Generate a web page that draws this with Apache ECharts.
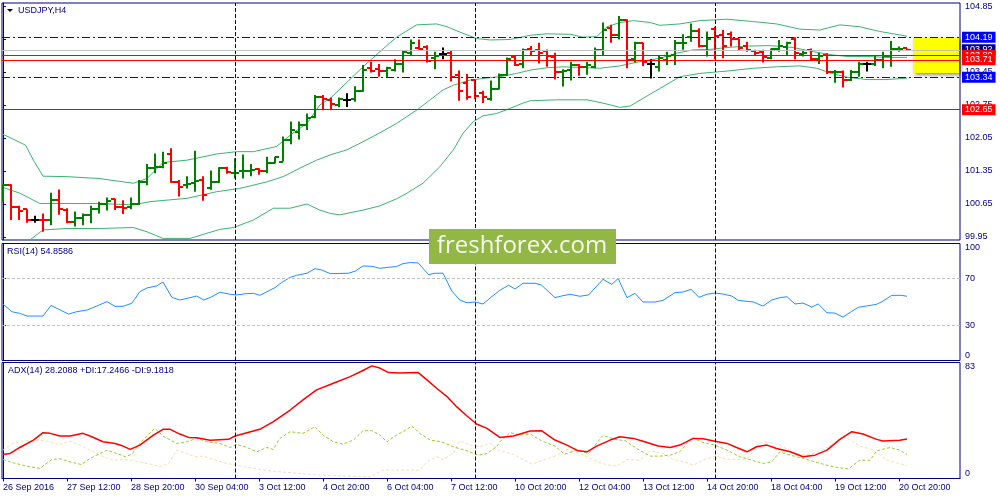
<!DOCTYPE html>
<html lang="en">
<head>
    <meta charset="UTF-8">
    <title>USDJPY,H4</title>
    <style>body { margin: 0; background: #fff; }</style>
</head>
<body>
    <div id="main" style="width: 1000px;height:500px"></div>

    <script src="https://cdn.jsdelivr.net/npm/echarts@6.0.0/dist/echarts.min.js"></script>
    <script>
        // bar index 0 = 26 Sep 04:00, one bar per 4 hours (weekends skipped)
        const opens = [
            100.73, 101.05, 100.59, 100.54, 100.32, 100.32, 100.32, 100.73, 100.52, 100.27,
            100.35, 100.42, 100.54, 100.65, 100.75, 100.59, 100.58, 100.65, 101.12, 101.41,
            101.44, 101.72, 101.12, 101.05, 101.10, 101.16, 100.98, 101.12, 101.41, 101.30,
            101.34, 101.36, 101.39, 101.34, 101.53, 101.55, 102.01, 102.18, 102.33, 102.50,
            102.93, 102.86, 102.75, 102.86, 102.87, 103.05, 103.53, 103.51, 103.47, 103.49,
            103.63, 103.86, 103.95, 103.99, 103.74, 103.83, 103.86, 103.39, 103.21, 103.27,
            103.00, 102.87, 103.10, 103.39, 103.76, 103.63, 103.93, 103.92, 103.90, 103.76,
            103.46, 103.49, 103.60, 103.56, 103.56, 103.92, 104.38, 104.23, 104.55, 103.72,
            104.06, 103.63, 103.56, 103.70, 103.81, 104.06, 104.20, 104.33, 104.00, 104.36,
            104.24, 104.26, 104.14, 104.00, 103.90, 103.88, 103.74, 103.93, 103.99, 104.16,
            103.83, 103.92, 103.72, 103.81, 103.44, 103.46, 103.29, 103.46, 103.62, 103.62,
            103.70, 103.78, 103.93, 103.95
        ];
        const highs = [
            101.07, 101.07, 100.61, 100.54, 100.40, 100.45, 100.89, 100.96, 100.56, 100.49,
            100.45, 100.61, 100.70, 100.79, 100.76, 100.73, 100.79, 101.16, 101.50, 101.72,
            101.76, 101.83, 101.16, 101.24, 101.78, 101.24, 101.36, 101.43, 101.44, 101.62,
            101.70, 101.50, 101.41, 101.65, 101.65, 102.08, 102.40, 102.40, 102.57, 102.96,
            102.96, 102.91, 102.91, 103.00, 103.15, 103.60, 103.67, 103.62, 103.56, 103.72,
            103.90, 104.14, 104.14, 104.02, 103.88, 103.97, 103.90, 103.48, 103.41, 103.29,
            103.05, 103.27, 103.42, 103.76, 103.81, 103.95, 104.00, 104.07, 103.93, 103.86,
            103.51, 103.67, 103.62, 103.67, 103.97, 104.50, 104.45, 104.64, 104.57, 104.09,
            104.07, 103.72, 103.79, 103.88, 104.13, 104.25, 104.48, 104.38, 104.31, 104.41,
            104.34, 104.31, 104.16, 104.09, 103.92, 103.92, 103.95, 104.13, 104.09, 104.19,
            103.90, 103.95, 103.86, 103.85, 103.49, 103.48, 103.49, 103.67, 103.67, 103.81,
            103.88, 104.11, 103.99, 103.95
        ];
        const lows = [
            100.70, 100.31, 100.31, 100.25, 100.25, 100.06, 100.20, 100.42, 100.24, 100.17,
            100.20, 100.24, 100.45, 100.51, 100.52, 100.44, 100.54, 100.63, 101.05, 101.30,
            101.41, 101.10, 100.81, 100.98, 100.91, 100.72, 100.95, 101.10, 101.29, 101.19,
            101.19, 101.24, 101.27, 101.30, 101.51, 101.55, 101.92, 102.02, 102.22, 102.47,
            102.64, 102.64, 102.70, 102.71, 102.82, 103.03, 103.44, 103.35, 103.34, 103.46,
            103.44, 103.81, 103.92, 103.65, 103.51, 103.72, 103.25, 102.84, 102.86, 102.87,
            102.79, 102.84, 103.08, 103.37, 103.58, 103.53, 103.79, 103.63, 103.56, 103.29,
            103.14, 103.27, 103.37, 103.39, 103.53, 103.81, 104.07, 104.14, 103.53, 103.65,
            103.58, 103.31, 103.46, 103.60, 103.60, 103.92, 104.09, 103.97, 103.78, 103.72,
            103.74, 103.99, 103.90, 103.88, 103.81, 103.65, 103.72, 103.88, 103.81, 103.72,
            103.78, 103.69, 103.62, 103.41, 103.22, 103.12, 103.26, 103.35, 103.46, 103.58,
            103.53, 103.56, 103.88, 103.90
        ];
        const closes = [
            101.05, 100.59, 100.51, 100.32, 100.32, 100.30, 100.73, 100.54, 100.27, 100.35,
            100.42, 100.54, 100.66, 100.72, 100.58, 100.56, 100.66, 101.12, 101.41, 101.44,
            101.51, 101.12, 101.02, 101.07, 101.14, 100.84, 101.12, 101.42, 101.33, 101.31,
            101.36, 101.37, 101.36, 101.51, 101.65, 102.01, 102.21, 102.33, 102.48, 102.93,
            102.87, 102.77, 102.87, 102.86, 103.05, 103.49, 103.48, 103.47, 103.53, 103.63,
            103.88, 104.07, 103.93, 103.69, 103.79, 103.83, 103.35, 103.05, 102.91, 102.94,
            102.93, 103.08, 103.39, 103.72, 103.59, 103.92, 103.90, 103.85, 103.78, 103.46,
            103.48, 103.60, 103.56, 103.60, 103.92, 104.34, 104.23, 104.55, 103.70, 104.06,
            103.67, 103.63, 103.74, 103.79, 104.06, 104.07, 104.33, 104.00, 104.16, 104.21,
            104.00, 104.14, 103.95, 103.92, 103.86, 103.76, 103.93, 104.00, 104.06, 103.85,
            103.86, 103.72, 103.78, 103.44, 103.46, 103.28, 103.46, 103.63, 103.62, 103.70,
            103.79, 103.93, 103.94, 103.92
        ];

        // Bollinger bands, read as [bar, price] vertices
        const bbUpper = [
            [0, 102.13], [2.8, 101.90], [3.8, 101.58], [5, 101.24], [8, 101.23], [12, 101.19], [16.3, 101.09],
            [18, 101.19], [20, 101.53], [23, 101.58], [26.7, 101.71], [29.2, 101.76], [31.3, 101.76], [34.2, 101.87],
            [35.9, 102.11], [38, 102.36], [39.6, 102.75], [40.9, 102.89], [45, 103.56], [47.1, 103.88], [49.2, 104.19],
            [51.7, 104.45], [54.2, 104.47], [55.5, 104.41], [57.5, 104.27], [59.2, 104.16], [60.9, 104.13], [63.4, 104.14],
            [65.9, 104.23], [68, 104.26], [70.9, 104.25], [72.5, 104.19], [74.2, 104.20], [75.5, 104.41], [77.1, 104.50],
            [78.8, 104.54], [80.9, 104.50], [82.1, 104.44], [84.6, 104.47], [87.1, 104.54], [90.5, 104.57], [93.8, 104.52],
            [96.7, 104.47], [99.6, 104.36], [102.1, 104.34], [104.6, 104.45], [107.1, 104.41], [109.6, 104.31], [113, 104.21]
        ];
        const bbMiddle = [
            [0, 101.00], [2.1, 100.88], [4.6, 100.66], [8, 100.66], [12.1, 100.66], [16.3, 100.63], [18.4, 100.70],
            [23, 100.77], [26.7, 100.91], [29.6, 100.98], [33, 101.12], [35, 101.23], [37.1, 101.41], [39.2, 101.58],
            [40.9, 101.69], [43, 101.80], [45, 101.97], [47.1, 102.16], [49.2, 102.36], [51.7, 102.64], [53.4, 102.86],
            [55, 103.07], [56.3, 103.17], [58.4, 103.28], [60.9, 103.33], [62.1, 103.35], [64.2, 103.42], [65.9, 103.49],
            [68, 103.54], [70, 103.56], [73, 103.54], [74.6, 103.53], [77.1, 103.58], [79.6, 103.67], [82.1, 103.74],
            [84.2, 103.85], [86.3, 103.92], [88.4, 103.93], [90.5, 103.97], [93, 104.00], [95.9, 104.01], [98.8, 103.97],
            [101.3, 103.88], [103.8, 103.81], [105.5, 103.78], [108, 103.78], [110.5, 103.76], [113, 103.76]
        ];
        const bbLower = [
            [0, 99.88], [2, 99.80], [3.4, 99.89], [5, 100.10], [8, 100.13], [12.1, 100.13], [16.3, 100.15], [18, 100.06],
            [20, 99.92], [23.4, 99.92], [25.5, 100.03], [27.1, 100.11], [28.8, 100.15], [31.3, 100.31], [33.8, 100.56],
            [35.9, 100.56], [38, 100.65], [39.6, 100.52], [40.9, 100.45], [42.1, 100.42], [45, 100.52], [47.1, 100.61],
            [49.2, 100.76], [50.5, 100.88], [52.5, 101.09], [54.6, 101.44], [56.3, 101.80], [57.5, 102.15], [58.8, 102.40],
            [60, 102.52], [61.7, 102.57], [63.4, 102.68], [65, 102.79], [65.9, 102.84], [69.2, 102.86], [73, 102.86],
            [75, 102.79], [77.1, 102.70], [78.4, 102.73], [80, 102.89], [82.1, 103.10], [84.6, 103.35], [87.1, 103.42],
            [90.5, 103.47], [93.8, 103.53], [96.7, 103.56], [99.6, 103.58], [101.7, 103.53], [103.8, 103.41],
            [105.5, 103.34], [108, 103.29], [110.5, 103.29], [113, 103.32]
        ];

        const rsi = [
            [0, 48.3], [1.1, 41.7], [2.1, 40.3], [3, 38.0], [5, 38.0], [6, 47.1], [6.9, 44.0], [8.2, 39.7], [9.2, 41.7],
            [10.5, 43.1], [11.7, 46.5], [13, 50.3], [14, 46.3], [15, 46.3], [16.1, 48.9], [17.1, 58.8], [18, 62.0],
            [19.2, 63.7], [20, 67.1], [21.1, 54.0], [22.1, 51.7], [23.2, 53.4], [24.2, 55.1], [25.1, 51.7], [26.1, 54.5],
            [27.1, 58.3], [28.4, 56.6], [29.2, 56.0], [30.3, 57.1], [31.3, 57.4], [32.1, 55.7], [33, 58.8], [34, 62.3],
            [34.8, 66.5], [35.9, 71.1], [36.7, 72.8], [38, 74.6], [39, 78.5], [39.8, 77.4], [40.9, 74.3], [41.5, 74.3],
            [43.2, 74.6], [44, 76.3], [45, 80.8], [46.1, 80.5], [47.1, 78.8], [48.2, 79.7], [49.2, 80.3], [50, 82.8],
            [50.9, 83.7], [51.9, 83.4], [53.2, 73.4], [54, 74.6], [55, 74.6], [56.1, 59.4], [57.1, 51.7], [58, 49.4],
            [59, 50.0], [60, 48.3], [61, 54.0], [62.1, 60.0], [63.2, 64.3], [64, 61.1], [65, 66.0], [66.5, 66.0],
            [67.3, 64.5], [69, 53.7], [69.8, 55.1], [70.9, 56.6], [72.1, 54.9], [73.2, 56.0], [75, 69.4], [76.1, 65.1],
            [76.9, 70.0], [78, 53.7], [79, 57.4], [80, 50.0], [81.5, 50.0], [82.5, 51.4], [84, 58.0], [85, 58.5],
            [86, 60.8], [87, 54.0], [88, 56.6], [89, 57.7], [90, 56.8], [91.1, 55.1], [91.9, 51.4], [93.8, 50.0],
            [95, 46.5], [96.1, 51.7], [97.1, 53.7], [98, 54.5], [99, 48.3], [100, 49.1], [101.1, 45.7], [101.9, 48.3],
            [103, 40.8], [104, 40.5], [105, 37.1], [106.1, 42.0], [106.9, 45.4], [108.4, 47.1], [109.2, 48.0],
            [110, 50.8], [111.1, 55.7], [112.3, 55.7], [113, 54.9]
        ];

        const adx = [
            [0, 17.2], [0.9, 17.9], [2.1, 22.2], [3.8, 27.5], [5, 32.8], [5.9, 32.3], [7.1, 30.4], [8.4, 30.4], [10, 32.3],
            [11.1, 29.9], [12.5, 26.3], [14, 25.1], [15, 23.2], [15.9, 20.8], [17.1, 23.9], [18.8, 31.1], [20, 35.2],
            [20.9, 35.2], [22.1, 31.8], [23.2, 29.4], [24.2, 29.2], [25.9, 27.3], [28.2, 28.0], [29, 30.4], [30.5, 32.8],
            [32.1, 35.2], [33.8, 40.7], [35.9, 49.0], [37.5, 56.2], [39.2, 63.4], [41.3, 68.2], [43.4, 72.9], [45, 77.3],
            [46.1, 80.6], [47.1, 79.0], [48.2, 75.8], [49.6, 75.4], [51.9, 75.8], [53, 70.6], [54.2, 64.6], [55.5, 58.6],
            [56.7, 51.4], [58, 44.7], [59.2, 39.0], [60.5, 35.9], [62.1, 29.4], [63.8, 30.4], [65.9, 34.0], [67.3, 34.2],
            [69, 27.5], [70.5, 23.9], [71.9, 19.8], [73, 19.1], [74.2, 23.2], [75.9, 27.5], [77.1, 29.9], [78.8, 28.7],
            [80, 26.6], [81.9, 23.2], [83.4, 22.2], [84.6, 23.9], [86.3, 28.7], [87.5, 28.5], [89, 26.6], [90.5, 25.1],
            [91.7, 22.2], [93, 19.1], [94.2, 22.7], [95.5, 23.9], [96.7, 21.5], [98.4, 19.1], [100, 15.6], [101.5, 16.7],
            [103, 20.3], [104.6, 28.0], [106.1, 33.5], [107.5, 31.8], [109.2, 28.0], [110, 26.8], [112.1, 27.3], [113, 28.2]
        ];
        const plusDI = [
            [0, 13.6], [1.3, 11.2], [3, 8.8], [4.6, 7.2], [6.1, 13.6], [7.1, 14.1], [8.4, 11.9], [9.8, 10.0], [10.9, 14.4],
            [12.1, 17.9], [13, 20.3], [14.2, 17.9], [15.3, 15.6], [16.1, 17.4], [17.1, 25.1], [18.4, 32.8], [19, 35.9],
            [20, 30.4], [21.7, 25.1], [23, 26.3], [24.2, 28.7], [25.5, 26.3], [27.1, 25.1], [28.4, 22.2], [29.2, 24.4],
            [30.5, 22.2], [31.7, 19.1], [33, 22.2], [33.8, 20.8], [34.6, 28.7], [35.9, 33.5], [37.5, 32.3], [39, 37.1],
            [40, 31.1], [41.3, 26.3], [42.5, 24.6], [43.8, 27.5], [45, 34.2], [46.1, 34.2], [47.1, 31.1], [48, 26.3],
            [49.2, 31.1], [50, 33.5], [51.1, 37.5], [52.1, 32.3], [53.4, 27.5], [54.8, 26.3], [56.3, 22.7], [58, 19.8],
            [59.4, 16.7], [60.5, 17.9], [61.7, 22.7], [62.1, 26.3], [63.4, 32.8], [64.6, 31.1], [65.9, 31.8], [67.3, 27.0],
            [69, 23.2], [70.2, 17.4], [71.7, 20.3], [73.2, 17.9], [75, 30.9], [76.5, 28.0], [77.8, 27.0], [79.2, 21.5],
            [80.9, 16.0], [82.1, 16.0], [83.4, 16.7], [84.6, 19.1], [86.1, 29.4], [87.5, 25.7], [89, 23.9], [90.5, 20.3],
            [92.1, 15.6], [93.6, 13.1], [95, 10.8], [96.1, 11.9], [97.1, 19.1], [98.4, 16.7], [100, 14.4], [101.5, 11.9],
            [103, 9.5], [104.2, 7.9], [105.7, 6.9], [107.1, 13.1], [108.4, 13.1], [109.2, 19.8], [110.9, 22.2],
            [112.1, 20.3], [113, 17.2]
        ];
        const minusDI = [
            [0, 20.3], [1.3, 25.1], [2.5, 26.8], [4.6, 27.5], [5.9, 26.3], [7, 23.9], [8.2, 27.0], [9.6, 23.9], [10.9, 20.3],
            [12.5, 15.6], [13.8, 13.1], [15, 13.6], [16.1, 13.1], [17.1, 11.9], [18.4, 10.3], [19.6, 8.4], [20.7, 10.8],
            [21.7, 20.3], [23, 17.9], [24, 15.6], [25, 16.0], [26.3, 13.6], [27.9, 10.8], [29.2, 9.5], [31.3, 7.2],
            [33.8, 5.2], [37.1, 3.6], [39.6, 2.4], [45.9, 1.2], [47.5, 6.0], [49.6, 6.0], [52.1, 6.0], [53, 11.9],
            [54.2, 15.6], [55, 13.6], [56.3, 17.9], [57.1, 27.0], [58.4, 23.9], [59.6, 22.7], [60.9, 25.1], [62.1, 19.7],
            [63.8, 17.4], [65, 13.6], [66.1, 10.3], [67.5, 13.1], [69, 16.0], [70.5, 20.8], [71.9, 18.4], [73.2, 15.1],
            [74.6, 11.2], [76.3, 8.8], [76.9, 9.5], [78, 13.6], [79.6, 13.1], [80.9, 19.8], [82.5, 17.9], [83.8, 13.6],
            [85.3, 11.7], [86.3, 9.5], [87.5, 13.1], [89, 16.0], [90.5, 13.9], [91.7, 13.6], [93, 13.9], [94.2, 23.2],
            [95, 26.3], [95.8, 25.6], [97.1, 23.9], [98.8, 18.4], [100.4, 16.7], [101.9, 19.1], [103.6, 23.9], [105, 29.4],
            [105.8, 28.0], [107.1, 23.2], [108.6, 20.8], [110.5, 13.1], [111.7, 11.2], [113, 9.2]
        ];

        const xLabelBars = [0, 8, 16, 24, 32, 40, 48, 56, 64, 72, 80, 88, 96, 104, 112];
        const xLabels = [
            '26 Sep 2016', '27 Sep 12:00', '28 Sep 20:00', '30 Sep 04:00', '3 Oct 12:00',
            '4 Oct 20:00', '6 Oct 04:00', '7 Oct 12:00', '10 Oct 20:00', '12 Oct 04:00',
            '13 Oct 12:00', '14 Oct 20:00', '18 Oct 04:00', '19 Oct 12:00', '20 Oct 20:00'
        ];
        const weekStarts = [29, 59, 89];
        const priceTicks = [99.95, 100.65, 101.35, 102.05, 102.75, 103.45, 104.15, 104.85];
        const rsiTicks = [0, 30, 70, 100];
        const rsiLevels = [70, 30];
        const adxTicks = [0, 83];

        const bidPrice = 103.92;
        const blueLevels = [104.19, 103.34];
        const redLevels = [103.80, 103.71, 102.65];
        const noteZone = { fromBar: 113.75, toBar: 119.5, top: 104.17, bottom: 103.43 };

        const NAVY = '#000080';
        const FONT = 'Liberation Sans';
        const UP = '#008000', DOWN = '#ff0000', FLAT = '#000000';

        const barRows = opens.map((o, i) => [i, o, highs[i], lows[i], closes[i]]);

        function renderBar(params, api) {
            const i = api.value(0);
            const o = api.value(1), h = api.value(2), l = api.value(3), c = api.value(4);
            const pH = api.coord([i, h]);
            const pL = api.coord([i, l]);
            const pO = api.coord([i, o]);
            const pC = api.coord([i, c]);
            const color = c > o ? UP : (c < o ? DOWN : FLAT);
            const x = Math.round(pH[0]);
            const style = { stroke: color, lineWidth: 2 };
            return {
                type: 'group',
                children: [
                    { type: 'line', shape: { x1: x, y1: pH[1], x2: x, y2: pL[1] }, style: style },
                    { type: 'line', shape: { x1: x - 4, y1: Math.round(pO[1]), x2: x, y2: Math.round(pO[1]) }, style: style },
                    { type: 'line', shape: { x1: x, y1: Math.round(pC[1]), x2: x + 4, y2: Math.round(pC[1]) }, style: style }
                ]
            };
        }

        function separators() {
            return {
                symbol: ['none', 'none'],
                silent: true,
                animation: false,
                label: { show: false },
                lineStyle: { color: NAVY, type: [4, 2], width: 1 },
                data: weekStarts.map(b => ({ xAxis: b }))
            };
        }

        function levelLine(value, color, type) {
            return {
                yAxis: value,
                lineStyle: { color: color, type: type, width: 1 },
                label: {
                    show: true,
                    position: 'end',
                    distance: 2,
                    formatter: p => p.value.toFixed(2),
                    color: '#fff',
                    backgroundColor: color,
                    padding: [1, 3, 0, 3],
                    lineHeight: 10,
                    fontSize: 9,
                    fontFamily: FONT
                }
            };
        }

        const dashDot = [8, 3, 2, 3];
        const levelData = [levelLine(bidPrice, '#c0c0c0', 'solid')];
        levelData[0].label.backgroundColor = NAVY;
        redLevels.slice(0, 2).forEach(v => levelData.push(levelLine(v, '#ff0000', 'solid')));
        blueLevels.forEach(v => levelData.push(levelLine(v, '#0000ff', dashDot)));
        levelData.push(levelLine(redLevels[2], '#ff0000', 'solid'));

        const xAxes = [0, 1, 2].map(g => ({
            type: 'value',
            gridIndex: g,
            min: -0.125,
            max: 119.625,
            axisLine: { show: g === 2, lineStyle: { color: NAVY } },
            axisTick: { show: g === 2, customValues: xLabelBars, length: 3, lineStyle: { color: NAVY } },
            axisLabel: {
                show: g === 2,
                customValues: xLabelBars,
                formatter: v => xLabels[xLabelBars.indexOf(Math.round(v))],
                align: 'left',
                margin: 5,
                fontSize: 9,
                color: NAVY,
                fontFamily: FONT
            },
            splitLine: { show: false }
        }));

        function yAxisFor(g, min, max, ticks, fmt) {
            return {
                type: 'value',
                gridIndex: g,
                position: 'right',
                min: min,
                max: max,
                axisLine: { show: true, lineStyle: { color: NAVY } },
                axisTick: { show: true, customValues: ticks, length: 3, lineStyle: { color: NAVY } },
                axisLabel: {
                    customValues: ticks,
                    formatter: fmt,
                    fontSize: 9,
                    color: NAVY,
                    fontFamily: FONT,
                    margin: 5,
                    verticalAlignMinLabel: g === 0 ? 'middle' : 'bottom',
                    verticalAlignMaxLabel: g === 0 ? 'middle' : 'top'
                },
                splitLine: { show: false }
            };
        }

        const gridBase = { left: 2, right: 40, show: true, borderColor: NAVY, borderWidth: 1, backgroundColor: '#fff', outerBoundsMode: 'none' };

        const chart = echarts.init(document.getElementById('main'));

        option = {
            animation: false,
            backgroundColor: '#ffffff',
            title: [
                { text: 'USDJPY,H4', left: 18, top: 6, padding: 0, textStyle: { fontSize: 9, fontWeight: 'normal', color: NAVY, fontFamily: FONT } },
                { text: 'RSI(14) 54.8586', left: 7, top: 247, padding: 0, textStyle: { fontSize: 9, fontWeight: 'normal', color: NAVY, fontFamily: FONT } },
                { text: 'ADX(14) 28.2088 +DI:17.2466 -DI:9.1818', left: 8, top: 366, padding: 0, textStyle: { fontSize: 9, fontWeight: 'normal', color: NAVY, fontFamily: FONT } }
            ],
            grid: [
                Object.assign({}, gridBase, { top: 3, height: 237 }),
                Object.assign({}, gridBase, { top: 243.5, height: 117 }),
                Object.assign({}, gridBase, { top: 362.5, height: 116 })
            ],
            xAxis: xAxes,
            yAxis: [
                yAxisFor(0, 99.886, 104.914, priceTicks, v => v.toFixed(2)),
                yAxisFor(1, 0, 100, rsiTicks, v => String(v)),
                yAxisFor(2, 0, 83, adxTicks, v => String(v))
            ],
            graphic: [
                { type: 'polygon', shape: { points: [[7, 9], [13, 9], [10, 12]] }, style: { fill: '#000' } },
                { type: 'rect', shape: { x: 429, y: 229, width: 187, height: 35 }, style: { fill: '#93b744' }, z: 100 },
                {
                    type: 'text', x: 522, y: 246, z: 101,
                    style: { text: 'freshforex.com', fill: '#f6f9ef', fontSize: 24, fontFamily: 'Open Sans', align: 'center', verticalAlign: 'middle' }
                }
            ],
            series: [
                {
                    type: 'line', xAxisIndex: 0, yAxisIndex: 0, data: bbUpper, showSymbol: false, silent: true, z: 2,
                    lineStyle: { color: '#3cb371', width: 1 },
                    markLine: separators()
                },
                {
                    type: 'line', xAxisIndex: 0, yAxisIndex: 0, data: bbMiddle, showSymbol: false, silent: true, z: 2,
                    lineStyle: { color: '#3cb371', width: 1 }
                },
                {
                    type: 'line', xAxisIndex: 0, yAxisIndex: 0, data: bbLower, showSymbol: false, silent: true, z: 2,
                    lineStyle: { color: '#3cb371', width: 1 }
                },
                {
                    type: 'custom', xAxisIndex: 0, yAxisIndex: 0, data: barRows, z: 3, silent: true, clip: true,
                    encode: { x: 0, y: [1, 2, 3, 4] },
                    renderItem: renderBar
                },
                {
                    type: 'line', xAxisIndex: 0, yAxisIndex: 0, data: [], z: 4,
                    markLine: { symbol: ['none', 'none'], silent: true, animation: false, data: levelData }
                },
                {
                    type: 'line', xAxisIndex: 0, yAxisIndex: 0, data: [], z: 5,
                    markArea: {
                        silent: true,
                        itemStyle: { color: '#ffff00', shadowBlur: 4, shadowOffsetX: 2, shadowOffsetY: 2, shadowColor: 'rgba(0,0,0,0.45)' },
                        data: [[{ coord: [noteZone.fromBar, noteZone.top] }, { coord: [noteZone.toBar, noteZone.bottom] }]]
                    }
                },
                {
                    type: 'line', xAxisIndex: 1, yAxisIndex: 1, data: rsi, showSymbol: false, silent: true,
                    lineStyle: { color: '#1e90ff', width: 1 },
                    markLine: {
                        symbol: ['none', 'none'], silent: true, animation: false, label: { show: false },
                        data: rsiLevels.map(v => ({ yAxis: v, lineStyle: { color: '#c0c0c0', type: [3, 2], width: 1 } }))
                            .concat(weekStarts.map(b => ({ xAxis: b, lineStyle: { color: NAVY, type: [4, 2], width: 1 } })))
                    }
                },
                {
                    type: 'line', xAxisIndex: 2, yAxisIndex: 2, data: minusDI, showSymbol: false, silent: true,
                    lineStyle: { color: '#f5deb3', width: 1, type: [3, 2] },
                    markLine: separators()
                },
                {
                    type: 'line', xAxisIndex: 2, yAxisIndex: 2, data: plusDI, showSymbol: false, silent: true,
                    lineStyle: { color: '#9acd32', width: 1, type: [3, 2] }
                },
                {
                    type: 'line', xAxisIndex: 2, yAxisIndex: 2, data: adx, showSymbol: false, silent: true,
                    lineStyle: { color: '#ff0000', width: 1.5 }
                }
            ]
        };

        chart.setOption(option);
    </script>
</body>

</html>
